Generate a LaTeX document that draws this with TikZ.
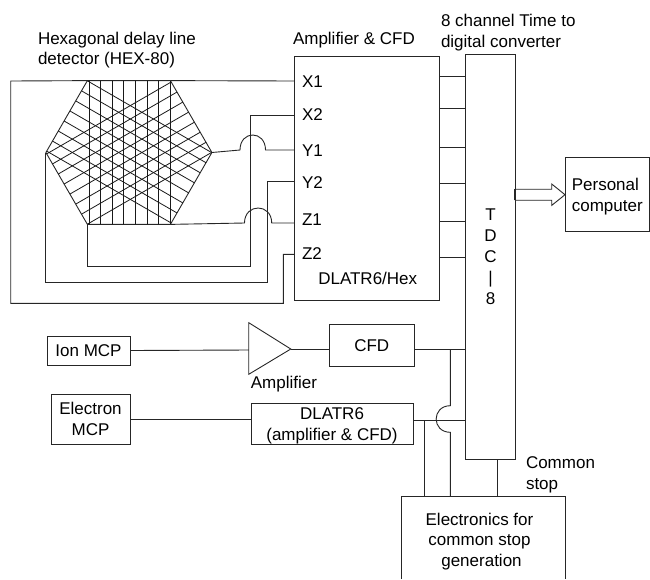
\documentclass[tikz,border=0pt]{standalone}
\usepackage{fontspec}
\setmainfont{Liberation Sans}
\usepackage{tikz}
\usetikzlibrary{calc, shapes.geometric}

\begin{document}
\begin{tikzpicture}[
  x=1pt, y=-1pt,
  every node/.style={font=\fontsize{17}{20.8}\selectfont, inner sep=0pt, outer sep=0pt},
  box/.style={rectangle, draw=black!85, line width=0.9pt, align=center},
  wire/.style={draw=black!85, line width=0.9pt},
  tag/.style={anchor=base west},
  grid wire/.style={draw=black!90, line width=0.8pt},
]
  \useasboundingbox (0,0) rectangle (650,579);

  % detector
  \node[regular polygon, regular polygon sides=6, minimum size=166pt, draw=black!85, line width=0.9pt] (hex) at (128.9,152.5) {};
  \begin{scope}
    \clip (hex.corner 1) -- (hex.corner 2) -- (hex.corner 3) -- (hex.corner 4) -- (hex.corner 5) -- (hex.corner 6) -- cycle;
    \foreach \ang in {0,60,-60} {
      \foreach \k in {0,...,7} {
        \draw[grid wire, rotate around={\ang:(hex.center)}] ($(hex.center)+(-39.9+11.6*\k,-90)$) -- ($(hex.center)+(-39.9+11.6*\k,90)$);
      }
    }
  \end{scope}

  % main boxes
  \node[box, minimum width=145.3pt, minimum height=244pt] (amp) at (366.65,178) {};
  \node[box, minimum width=49.6pt, minimum height=404.7pt] (tdc) at (490.5,256.65) {T\\D\\C\\|\\8};
  \node[box, minimum width=84.5pt, minimum height=73.7pt, align=left] (pc) at (607.25,194.15) {\rule{0pt}{17.8pt}Personal\\[0.5pt]computer};
  \node[box, minimum width=83pt, minimum height=29pt] (ion) at (88.5,350.5) {Ion MCP};
  \node[box, minimum width=85.6pt, minimum height=42.4pt] (cfd) at (371.8,345.5) {CFD};
  \node[box, minimum width=79pt, minimum height=50pt] (electron) at (90.5,419.3) {Electron\\MCP};
  \node[box, minimum width=162pt, minimum height=41.7pt] (dlatr) at (332,423.85) {\rule{0pt}{16.6pt}DLATR6\\(amplifier \& CFD)};

  % open box at the foot of the page
  \node[align=center] (stopgen) at (479.5,541.5) {Electronics for\\common stop\\\hspace*{4pt}generation};
  \coordinate (stopnw) at (401,496);
  \coordinate (stopne) at (565.4,496);
  \coordinate (stopsw) at (401,579);
  \coordinate (stopse) at (565.4,579);
  \draw[wire] (stopsw) -- (stopnw) -- (stopne) -- (stopse);

  % amplifier symbol
  \coordinate (triup) at (248.75,322.7);
  \coordinate (trilow) at (248.75,374.3);
  \coordinate (tritip) at (290.8,349);
  \coordinate (triin) at (248.75,350);
  \draw[wire] (triup) -- (tritip) -- (trilow) -- cycle;

  % texts
  \node[tag] (hexlabela) at (38,44) {Hexagonal delay line};
  \node[tag] (hexlabelb) at (38,64) {detector (HEX-80)};
  \node[tag] (amplabel) at (293,44) {Amplifier \& CFD};
  \node[tag] (tdclabela) at (441,26.7) {8 channel Time to};
  \node[tag] (tdclabelb) at (441,47.7) {digital converter};
  \node[tag] (xa) at (302,87.3) {X1};
  \node[tag] (xb) at (302,120.7) {X2};
  \node[tag] (ya) at (302,156) {Y1};
  \node[tag] (yb) at (302,188.7) {Y2};
  \node[tag] (za) at (302,225) {Z1};
  \node[tag] (zb) at (302,259.3) {Z2};
  \node[tag] (amptype) at (318.3,284) {DLATR6/Hex};
  \node[tag] (trilabel) at (250.8,388) {Amplifier};
  \node[tag] (stopa) at (526,468) {Common};
  \node[tag] (stopb) at (526,489) {stop};

  % ports on the amplifier box
  \coordinate (pxa) at (amp.west |- 0,81);
  \coordinate (pxb) at (amp.west |- 0,115.3);
  \coordinate (pya) at (amp.west |- 0,150);
  \coordinate (pyb) at (amp.west |- 0,181.7);
  \coordinate (pza) at (amp.west |- 0,223);
  \coordinate (pzb) at (amp.west |- 0,254.3);

  % delay line leads
  \draw[wire] (hex.corner 1) -- (pxa);
  \draw[wire] (hex.corner 2) -- (10.7,81) -- (10.7,303.3) -- (283.3,303.3) -- (283.3,254.3) -- (pzb);
  \draw[wire] (hex.corner 4) -- (hex.corner 4 |- 0,266) -- (250.7,266) -- (250.7,115.3) -- (pxb);
  \draw[wire] (hex.corner 3) -- (hex.corner 3 |- 0,282.3) -- (267.7,282.3) -- (267.7,181.7) -- (pyb);
  \draw[wire] (hex.corner 6) -- (240,150) .. controls +(0,-20) and +(0,-20) .. (265.5,150) -- (pya);
  \draw[wire] (hex.corner 5) -- (244.5,223) .. controls +(0,-20) and +(0,-20) .. (271.7,223) -- (pza);

  % amplifier box to TDC
  \foreach \yy in {76.3,108.3,147.3,183.3,221.3,257} {
    \draw[wire] (amp.east |- 0,\yy) -- (tdc.west |- 0,\yy);
  }

  % TDC to computer
  \coordinate (tdcout) at (tdc.east |- 0,194.7);
  \draw[wire, fill=white] ($(tdcout)+(0,-5.5)$) -- ($(pc.west |- tdcout)+(-13.3,-5.5)$) -- ($(pc.west |- tdcout)+(-13.3,-10.7)$) -- (pc.west |- tdcout) -- ($(pc.west |- tdcout)+(-13.3,10.7)$) -- ($(pc.west |- tdcout)+(-13.3,5.5)$) -- ($(tdcout)+(0,5.5)$) -- cycle;
  \draw[wire, line width=1.8pt] ($(tdcout)+(0,-5.5)$) -- ($(tdcout)+(0,5.5)$);

  % lower channels
  \draw[wire] (ion.east) -- (triin);
  \draw[wire] (tritip) -- (tritip -| cfd.west);
  \coordinate (cfdout) at (cfd.east |- 0,349.3);
  \coordinate (dlout) at (dlatr.east |- 0,420);
  \draw[wire] (cfdout) -- (tdc.west |- cfdout);
  \draw[wire] (electron.east) -- (electron.east -| dlatr.west);
  \draw[wire] (dlout) -- (tdc.west |- dlout);
  \draw[wire] (424.6,420) -- (424.6,496);
  \draw[wire] (450.4,349.3) -- (450.4,405.7) .. controls +(-19,0) and +(-19,0) .. (450.4,432.3) -- (450.4,496);
  \draw[wire] (tdc.south -| 497,0) -- (497,496);
\end{tikzpicture}
\end{document}
